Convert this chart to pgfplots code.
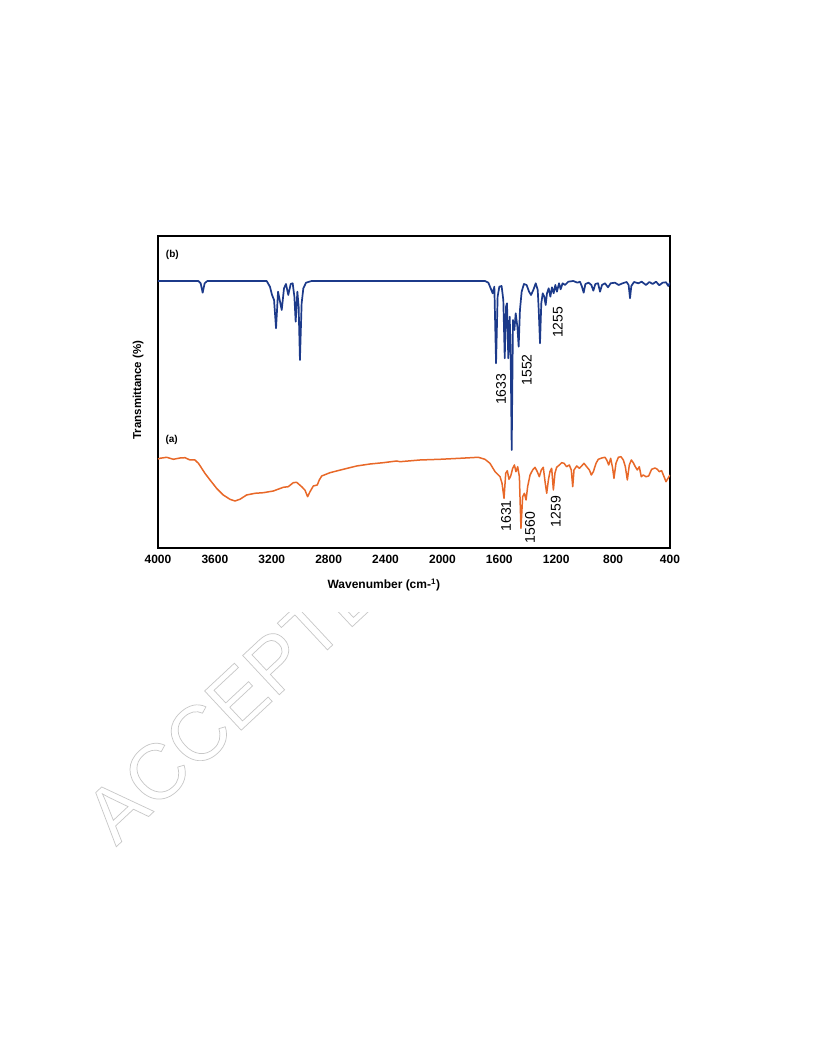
\documentclass[border=0pt]{standalone}
\usepackage{pgfplots}
\pgfplotsset{compat=1.18}
\usepackage{fontspec}
\setmainfont{Liberation Sans}
\definecolor{bluel}{RGB}{28,58,138}
\definecolor{orangel}{RGB}{232,104,40}
\begin{document}
\begin{tikzpicture}[x=1pt,y=1pt]
\useasboundingbox[fill=white] (0,0) rectangle (816,1056);
% watermark
\node[rotate=43, anchor=base west, inner sep=0, font=\fontsize{78}{78}\selectfont] at (116,209) {\special{pdf:literal direct 1 Tr 0.7 w 0.78 G}ACCEPTED\special{pdf:literal direct 0 Tr 0 G}};
\fill[white] (100,444) rectangle (700,841);
\begin{axis}[
  at={(158pt,508pt)}, anchor=south west,
  width=512pt, height=312pt, scale only axis,
  xmin=400, xmax=4000, x dir=reverse,
  ymin=0, ymax=312,
  ytick=\empty,
  xtick={400,800,...,4000},
  major tick length=0pt,
  axis line style={line width=1.6pt},
  /pgf/number format/1000 sep={},
  /pgf/number format/assume math mode=true,
  tick label style={font=\bfseries\fontsize{12}{14}\selectfont},
  xticklabel style={anchor=center, yshift=-11pt},
  xlabel={\bfseries Wavenumber (cm-\textsuperscript{1})},
  xlabel style={at={(axis description cs:0.441,-0.119)}, anchor=center, font=\fontsize{12}{14}\selectfont},
  ylabel={\bfseries Transmittance (\%)},
  ylabel style={at={(axis description cs:-0.039,0.506)}, anchor=center, font=\fontsize{11.5}{14}\selectfont},
  clip=true,
]
\addplot[color=bluel, line width=1.7pt, line join=round] coordinates {
(4000,267) (3716,267) (3700,264.7) (3686,255.3) (3672,264.7) (3653,267)
(3236,267) (3213,261.3) (3198,253) (3184,248) (3170,219.7) (3156,256.3)
(3142,246.3) (3130,238) (3114,259.7) (3100,264) (3084,253) (3067,264)
(3053,264.7) (3041,251.3) (3032,226.3) (3020,256.3) (3011,241.3) (3002,188)
(2990,244.7) (2978,259.7) (2959,265.3) (2920,267)
(1701,267) (1677,265.3) (1661,259.7) (1647,254.7) (1635,261.3) (1623,184.7)
(1612,251.3) (1600,261.3) (1584,262) (1572,248) (1562,189.7) (1553,241.3)
(1546,244.7) (1537,189.7) (1527,231.3) (1520,191.3) (1513,98) (1504,228)
(1494,218) (1485,234.7) (1473,221.3) (1464,201.3) (1455,238) (1443,256.3)
(1427,264) (1408,263) (1391,256.3) (1377,253) (1361,258) (1344,264.7)
(1330,258) (1323,238) (1314,204.7) (1305,244.7) (1295,254.7) (1284,251.3)
(1274,243) (1265,254.7) (1253,259.7) (1241,251.3) (1230,260.7) (1218,254.7)
(1206,263) (1195,256.3) (1180,264.7) (1169,258.7) (1155,264.7) (1138,263)
(1115,266.3) (1080,267) (1051,265.3) (1033,266.3) (1019,261.3) (1007,255.3)
(995,264) (972,265.3) (953,263) (939,257.3) (925,264) (906,264.7) (892,256.3)
(878,263) (857,264.7) (836,260.7) (817,264.7) (787,265.3) (761,263) (733,264.7)
(705,266) (691,263) (681,249.7) (672,262) (653,266) (623,264.7) (599,266.3)
(569,263) (545,266) (522,264) (498,266.3) (475,262.7) (452,265.3) (428,265.7)
(412,262) (400,265.3)
};
\addplot[color=orangel, line width=1.5pt, line join=round] coordinates {
(4000,89) (3986,89.7) (3939,90.7) (3892,88.7) (3845,90) (3810,90.3) (3775,88)
(3740,88) (3716,84.7) (3700,81.3) (3670,74.7) (3634,68) (3588,59.7) (3541,53)
(3494,48.7) (3459,47) (3424,48.7) (3377,53) (3318,54.7) (3259,55.3) (3189,57)
(3119,60.7) (3084,61.3) (3049,65.3) (3025,65.7) (2990,61.3) (2967,58) (2948,51.3)
(2931,56.3) (2908,62) (2880,63) (2866,68) (2849,72) (2791,75.3) (2697,78.7)
(2603,82) (2509,84) (2416,85.3) (2322,87) (2298,86.3) (2158,88) (2017,88.7)
(1877,89.7) (1748,90.7) (1701,88.7) (1666,84.7) (1630,76.3) (1607,73) (1595,71.3)
(1581,64.7) (1567,49.7) (1555,74.7) (1544,77.3) (1532,68.7) (1520,72) (1506,79.7)
(1494,83) (1483,76.3) (1471,81.3) (1459,71.3) (1448,19.7) (1436,51.3) (1424,54.7)
(1412,48) (1401,61.3) (1384,73) (1366,78) (1349,80.7) (1333,76.3) (1319,71.3)
(1305,78) (1291,80.7) (1277,64.7) (1267,54.7) (1255,68) (1244,76.3) (1232,79.7)
(1220,58) (1209,74.7) (1197,80.7) (1178,83) (1162,85.3) (1145,84.7) (1127,81.3)
(1108,83) (1094,78) (1084,61.3) (1075,78) (1056,82) (1037,79.7) (1021,82)
(1005,84.7) (986,81.3) (967,78) (953,73) (939,76.3) (920,84.7) (904,88.7)
(880,90) (857,90.7) (845,88) (831,83) (817,89.7) (803,79.7) (794,69.7) (780,84.7)
(763,90.7) (745,91.3) (728,88) (714,81.3) (700,68) (686,83) (672,88) (658,85.3)
(644,81.3) (630,78) (616,81.3) (602,71.3) (588,73) (569,71.3) (550,72) (529,78.7)
(505,80) (489,78.7) (475,76.3) (459,77.3) (442,71.3) (428,66.3) (414,69.7) (400,73)
};
\node[font=\bfseries\fontsize{10}{12}\selectfont] at (axis cs:3899,293) {(b)};
\node[font=\bfseries\fontsize{10}{12}\selectfont] at (axis cs:3904,108) {(a)};
\node[rotate=90, font=\fontsize{14}{16}\selectfont] at (axis cs:1588,158.7) {1633};
\node[rotate=90, font=\fontsize{14}{16}\selectfont] at (axis cs:1407.6,178) {1552};
\node[rotate=90, font=\fontsize{14}{16}\selectfont] at (axis cs:1189.6,225.7) {1255};
\node[rotate=90, font=\fontsize{14}{16}\selectfont] at (axis cs:1553,32) {1631};
\node[rotate=90, font=\fontsize{14}{16}\selectfont] at (axis cs:1384,20.3) {1560};
\node[rotate=90, font=\fontsize{14}{16}\selectfont] at (axis cs:1203.7,36.3) {1259};
\end{axis}
\end{tikzpicture}
\end{document}
